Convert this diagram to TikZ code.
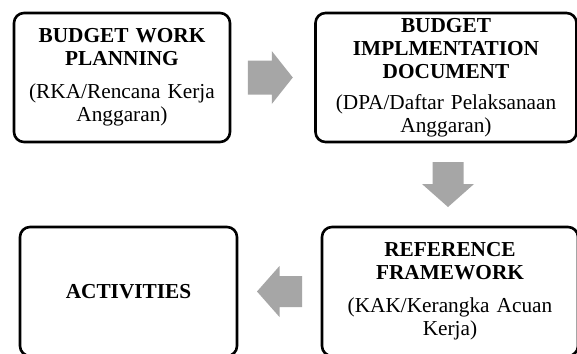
\documentclass[tikz,border=0pt]{standalone}
\usepackage{fontspec}
\setmainfont{Liberation Serif}
\usetikzlibrary{calc}
\definecolor{arrowgray}{RGB}{166,166,166}
\tikzset{
  box/.style={draw=black, line width=2.6pt, rounded corners=10pt, inner sep=0pt,
    align=center, font=\fontsize{21.3}{23}\selectfont, minimum height=129pt},
}
\begin{document}
\begin{tikzpicture}[x=1pt,y=-1pt]
\clip (0,0) rectangle (577,353);
\fill[white] (0,0) rectangle (577,353);
\node[box, minimum width=216pt, text width=206pt] (b1) at (122,77.5)
  {\textbf{BUDGET WORK}\\\textbf{PLANNING}\\[10pt](RKA/Rencana Kerja\\Anggaran)};
\node[box, minimum width=261pt, text width=250pt] (b2) at (446,77.5)
  {\textbf{BUDGET}\\\textbf{IMPLMENTATION}\\\textbf{DOCUMENT}\\[8pt](DPA/Daftar Pelaksanaan\\Anggaran)};
\node[box, minimum width=256pt, text width=246pt] (b3) at (450,291.5)
  {\textbf{REFERENCE}\\\textbf{FRAMEWORK}\\[10pt](KAK/Kerangka Acuan\\Kerja)};
\node[box, minimum width=217pt, text width=207pt] (b4) at (128.5,291.5)
  {\textbf{ACTIVITIES}};
% block arrows
\coordinate (ra) at ($(b1.east)!0.47!(b2.west)$);
\fill[arrowgray] ([shift={(-22.5,-17)}]ra) -- ([shift={(1.5,-17)}]ra) -- ([shift={(1.5,-26.5)}]ra)
  -- ([shift={(22.5,0)}]ra) -- ([shift={(1.5,26.5)}]ra) -- ([shift={(1.5,17)}]ra)
  -- ([shift={(-22.5,17)}]ra) -- cycle;
\coordinate (da) at ($(b2.south)!0.5!(b3.north)$);
\fill[arrowgray] ([shift={(-15.5,-22.5)}]da) -- ([shift={(15.5,-22.5)}]da) -- ([shift={(15.5,-0.5)}]da)
  -- ([shift={(26,-0.5)}]da) -- ([shift={(0,22.5)}]da) -- ([shift={(-26,-0.5)}]da)
  -- ([shift={(-15.5,-0.5)}]da) -- cycle;
\coordinate (la) at ($(b3.west)!0.5!(b4.east)$);
\fill[arrowgray] ([shift={(22.5,-15.5)}]la) -- ([shift={(0,-15.5)}]la) -- ([shift={(0,-25.5)}]la)
  -- ([shift={(-22.5,0)}]la) -- ([shift={(0,25.5)}]la) -- ([shift={(0,15.5)}]la)
  -- ([shift={(22.5,15.5)}]la) -- cycle;
\end{tikzpicture}
\end{document}
